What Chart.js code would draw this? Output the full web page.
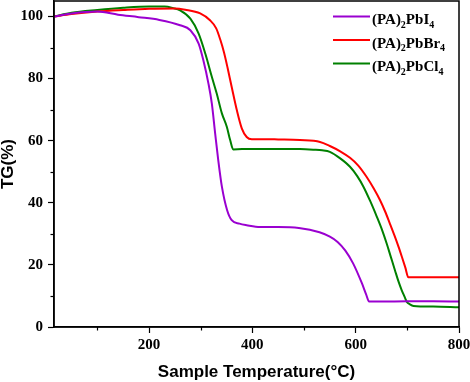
<!DOCTYPE html>
<html><head><meta charset="utf-8">
<script src="https://cdn.jsdelivr.net/npm/chart.js@4/dist/chart.umd.min.js"></script>
<style>html,body{margin:0;padding:0;background:#fff}canvas{display:block}</style>
</head><body>
<canvas id="c" width="470" height="382"></canvas>
<script>
// Series names (digits rendered as subscripts in the legend)
const seriesNames = ['(PA)2PbI4', '(PA)2PbBr4', '(PA)2PbCl4'];
const seriesColors = ['#9A00D0', '#FF0000', '#008000'];

// (PA)2PbI4
const tempI = [16, 50, 100, 140, 180, 220, 260, 280, 296, 305, 315, 321.5, 328, 334, 341, 351, 360, 375, 389, 415, 450, 490, 530, 550, 565, 580, 595, 612, 620, 626, 650, 700, 750, 800];
const tgI   = [100, 101, 101.6, 100.6, 99.8, 98.9, 97.2, 95.6, 91.3, 86, 78.4, 72, 62.3, 53.7, 45.2, 37.7, 34.4, 33.3, 32.8, 32.2, 32.2, 31.9, 30.5, 29.1, 27.4, 24.6, 20.5, 14.1, 10.6, 8.2, 8.2, 8.3, 8.3, 8.2];

// (PA)2PbBr4
const tempBr = [16, 50, 100, 150, 200, 250, 270, 299, 318, 330, 338, 345, 352, 360, 370, 379.5, 389, 399, 420, 450, 492, 531, 550, 570, 589, 605, 621, 635, 647, 657, 666, 675, 683, 690, 696, 702, 720, 800];
const tgBr   = [100, 100.8, 101.6, 102.1, 102.5, 102.6, 102.2, 101, 98.8, 96.2, 92.5, 88.5, 83.5, 77.3, 69.8, 64, 61.2, 60.5, 60.5, 60.4, 60.2, 59.6, 58.3, 56.6, 54.5, 52, 48.4, 44.6, 40.9, 37.2, 33.4, 29.5, 25.8, 22.3, 19.2, 16.0, 16.0, 16.0];

// (PA)2PbCl4
const tempCl = [16, 50, 100, 150, 200, 230, 247, 260, 280, 296, 309, 321.5, 331, 341, 350.5, 357, 363, 380, 420, 492, 520, 535, 550, 570, 589, 603, 615, 628, 641, 651, 660, 668, 676, 683, 689, 695, 699, 705, 712, 750, 800];
const tgCl   = [100, 101.2, 102.1, 102.8, 103.2, 103.2, 102.7, 102, 99.3, 94.5, 88, 80.6, 75.2, 68.8, 64.5, 60.2, 57.2, 57.3, 57.3, 57.3, 57.1, 56.9, 56.4, 54.3, 51.6, 48.6, 45.2, 40.6, 35.5, 31.3, 26.9, 22.6, 18.3, 14.6, 11.9, 9.6, 8.1, 7.3, 6.8, 6.6, 6.4];

// Axis ticks
const xTickValues = [100, 200, 300, 400, 500, 600, 700, 800];
const xTickLabels = [200, 400, 600, 800];
const yTickValues = [0, 10, 20, 30, 40, 50, 60, 70, 80, 90, 100];
const yTickLabels = [0, 20, 40, 60, 80, 100];
const xTitle = 'Sample Temperature(°C)';
const yTitle = 'TG(%)';

const pts = (xs, ys) => xs.map((x, i) => ({x: x, y: ys[i]}));
const allTemps = [tempI, tempBr, tempCl];
const allTg = [tgI, tgBr, tgCl];

const datasets = seriesNames.map((name, i) => ({
  label: name,
  data: pts(allTemps[i], allTg[i]),
  borderColor: seriesColors[i],
  backgroundColor: seriesColors[i],
  borderWidth: 2,
  pointRadius: 0,
  fill: false,
  cubicInterpolationMode: 'monotone'
}));

const frameAndMinor = {
  id: 'frameAndMinor',
  afterDraw(chart) {
    const ctx = chart.ctx, a = chart.chartArea;
    ctx.save();
    ctx.strokeStyle = '#000';
    ctx.lineWidth = 1.5;
    ctx.strokeRect(a.left, a.top, a.right - a.left, a.bottom - a.top);
    ctx.lineWidth = 1.2;
    const xs = chart.scales.x, ys = chart.scales.y;
    xTickValues.filter(v => !xTickLabels.includes(v)).forEach(v => {
      const px = Math.round(xs.getPixelForValue(v)) + 0.5;
      ctx.beginPath(); ctx.moveTo(px, a.bottom); ctx.lineTo(px, a.bottom + 3.5); ctx.stroke();
    });
    yTickValues.filter(v => !yTickLabels.includes(v)).forEach(v => {
      const py = Math.round(ys.getPixelForValue(v)) + 0.5;
      ctx.beginPath(); ctx.moveTo(a.left, py); ctx.lineTo(a.left - 3.5, py); ctx.stroke();
    });
    ctx.restore();
  }
};

const subLegend = {
  id: 'subLegend',
  afterDraw(chart) {
    const ctx = chart.ctx, a = chart.chartArea;
    ctx.save();
    chart.data.datasets.forEach((ds, i) => {
      const y = a.top + 15.5 + i * 23.5;
      const x0 = a.right - 126, x1 = a.right - 89;
      ctx.strokeStyle = ds.borderColor;
      ctx.lineWidth = 2;
      ctx.beginPath(); ctx.moveTo(x0, y); ctx.lineTo(x1, y); ctx.stroke();
      let x = x1 + 2;
      ctx.fillStyle = '#000';
      ctx.textBaseline = 'alphabetic';
      const parts = ds.label.match(/\d+|\D+/g);
      parts.forEach(p => {
        const isSub = /^\d+$/.test(p);
        ctx.font = isSub ? 'bold 10px "Liberation Serif"' : 'bold 15px "Liberation Serif"';
        ctx.fillText(p, x, y + (isSub ? 11 : 7.5));
        x += ctx.measureText(p).width;
      });
    });
    ctx.restore();
  }
};

new Chart(document.getElementById('c'), {
  type: 'line',
  data: { datasets: datasets },
  options: {
    responsive: false,
    animation: false,
    devicePixelRatio: 1,
    layout: { padding: { top: 1, right: 11, left: 0, bottom: 0 } },
    plugins: { legend: { display: false }, tooltip: { enabled: false } },
    scales: {
      x: {
        type: 'linear',
        min: 16, max: 800,
        afterBuildTicks: s => { s.ticks = xTickValues.map(v => ({value: v})); },
        afterFit: s => { s.height = 55; s.paddingLeft = 0; s.paddingRight = 0; },
        ticks: {
          autoSkip: false, maxRotation: 0,
          color: '#000', padding: 3,
          font: { family: '"Liberation Serif"', weight: 'bold', size: 15 },
          callback: v => xTickLabels.includes(v) ? String(v) : ''
        },
        grid: {
          drawOnChartArea: false, drawTicks: true, tickLength: 6, tickWidth: 1.2,
          tickColor: c => (c.tick && xTickLabels.includes(c.tick.value)) ? '#000' : 'rgba(0,0,0,0)'
        },
        border: { display: true, color: '#000', width: 1.5 },
        title: {
          display: true, text: xTitle, color: '#000',
          font: { family: '"Liberation Sans"', weight: 'bold', size: 17, lineHeight: 1 },
          padding: { top: 0, bottom: 1 }
        }
      },
      y: {
        type: 'linear',
        min: 0, max: 105,
        afterBuildTicks: s => { s.ticks = yTickValues.map(v => ({value: v})); },
        afterFit: s => { s.width = 54; s.paddingTop = 0; s.paddingBottom = 0; },
        ticks: {
          autoSkip: false,
          color: '#000', padding: 5,
          font: { family: '"Liberation Serif"', weight: 'bold', size: 15 },
          callback: v => yTickLabels.includes(v) ? String(v) : ''
        },
        grid: {
          drawOnChartArea: false, drawTicks: true, tickLength: 6, tickWidth: 1.2,
          tickColor: c => (c.tick && yTickLabels.includes(c.tick.value)) ? '#000' : 'rgba(0,0,0,0)'
        },
        border: { display: true, color: '#000', width: 1.5 },
        title: {
          display: true, text: yTitle, color: '#000',
          font: { family: '"Liberation Sans"', weight: 'bold', size: 17, lineHeight: 1 },
          padding: { top: 0, bottom: 0 }
        }
      }
    }
  },
  plugins: [frameAndMinor, subLegend]
});
</script>
</body></html>
